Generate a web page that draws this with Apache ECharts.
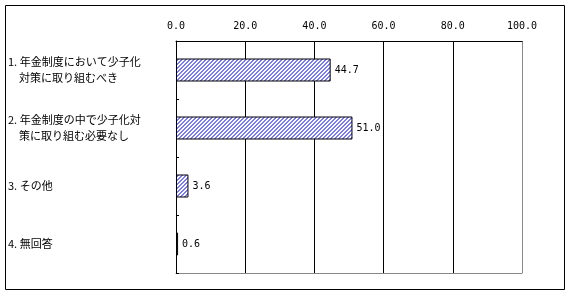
<!DOCTYPE html>
<html><head><meta charset="utf-8">
<script src="https://cdn.jsdelivr.net/npm/echarts@6/dist/echarts.min.js"></script>
<style>html,body{margin:0;padding:0;background:#fff}#c{width:572px;height:295px}</style>
</head><body><div id="c"></div>
<script>
const categories = ['1. 年金制度において少子化\n　対策に取り組むべき', '2. 年金制度の中で少子化対\n　策に取り組む必要なし', '3. その他', '4. 無回答'];
const values = [44.7, 51.0, 3.6, 0.6];
const tickLabels = ['0.0', '20.0', '40.0', '60.0', '80.0', '100.0'];

const cv = document.createElement('canvas');
cv.width = 4; cv.height = 4;
const cx = cv.getContext('2d');
cx.fillStyle = '#ffffff'; cx.fillRect(0, 0, 4, 4);
cx.fillStyle = '#7b7bf0';
for (let x = 0; x < 4; x++) for (let y = 0; y < 4; y++) if ((x + y) % 4 < 2) cx.fillRect(x, y, 1, 1);

const font = '"Noto Sans CJK JP", sans-serif';
const mono = '"DejaVu Sans Mono", "Liberation Mono", monospace';
const chart = echarts.init(document.getElementById('c'), null, {renderer: 'canvas'});
chart.setOption({
  animation: false,
  backgroundColor: '#fff',
  grid: {left: 176, right: 50, top: 41, bottom: 22, containLabel: false},
  graphic: [{type: 'rect', shape: {x: 5.5, y: 5.5, width: 559, height: 284}, style: {fill: 'none', stroke: '#000', lineWidth: 1}, silent: true}],
  xAxis: [{
    type: 'value', position: 'top', min: 0, max: 100, interval: 20,
    axisLine: {show: true, lineStyle: {color: '#000', width: 1}},
    axisTick: {show: false},
    axisLabel: {margin: 10, fontSize: 10, color: '#000', fontFamily: mono, formatter: v => tickLabels[Math.round(v / 20)]},
    splitLine: {show: true, lineStyle: {color: ['#000', '#000', '#000', '#000', '#000', '#888'], width: 1}}
  }, {
    type: 'value', position: 'bottom', min: 0, max: 100, interval: 20,
    axisLine: {show: true, lineStyle: {color: '#888', width: 1}},
    axisTick: {show: false}, axisLabel: {show: false}, splitLine: {show: false}
  }],
  yAxis: {
    type: 'category', data: categories, inverse: true,
    axisLine: {show: true, lineStyle: {color: '#000', width: 1}},
    axisTick: {show: true, inside: true, length: 3, lineStyle: {color: '#000'}},
    axisLabel: {align: 'left', margin: 168, fontSize: 11, lineHeight: 16, color: '#000', fontFamily: font}
  },
  series: [{
    type: 'bar', data: values, barWidth: 23, xAxisIndex: 0,
    itemStyle: {color: {image: cv, repeat: 'repeat'}, borderColor: '#000', borderWidth: 1},
    label: {show: true, position: 'right', distance: 4, fontSize: 10, color: '#000', fontFamily: mono, formatter: p => p.value.toFixed(1)}
  }]
});
</script></body></html>
